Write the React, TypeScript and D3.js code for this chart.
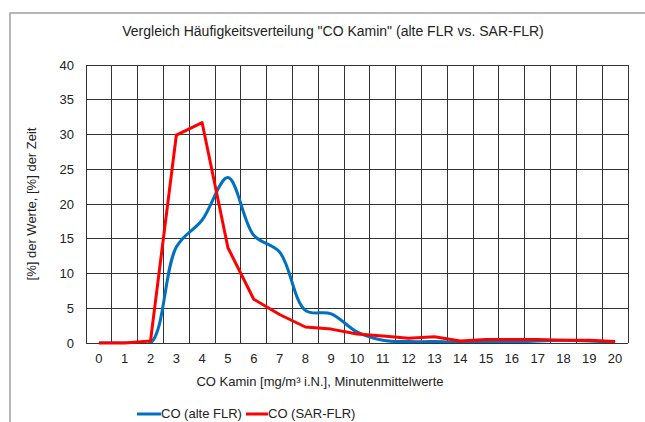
import * as d3 from "d3";

const categories = ["0","1","2","3","4","5","6","7","8","9","10","11","12","13","14","15","16","17","18","19","20"];
const alteFlr = [0, 0, 0, 13.8, 17.7, 23.8, 15.5, 13.1, 4.7, 4.2, 1.6, 0.4, 0.2, 0.2, 0.1, 0.1, 0.1, 0.3, 0.4, 0.3, 0.1];
const sarFlr = [0, 0, 0.3, 29.9, 31.7, 13.7, 6.3, 4.1, 2.3, 2.0, 1.3, 1.0, 0.7, 0.9, 0.3, 0.5, 0.5, 0.5, 0.4, 0.4, 0.2];
const yTicks = [0, 5, 10, 15, 20, 25, 30, 35, 40];

const W = 645;
const H = 422;
const left = 86, right = 628, top = 65, bottom = 343;
const font = "Liberation Sans, Arial, sans-serif";

export default function App() {
  const x = d3.scaleBand().domain(categories).range([left, right]);
  const y = d3.scaleLinear().domain([0, 40]).range([bottom, top]);
  const cx = (i: number) => (x(categories[i]) as number) + x.bandwidth() / 2;

  // smoothed line for the old FLR, straight segments for SAR-FLR
  const blueLine = d3
    .line<number>()
    .x((_, i) => cx(i))
    .y((d) => y(d))
    .curve(d3.curveCatmullRom.alpha(0.5));
  const redLine = d3
    .line<number>()
    .x((_, i) => cx(i))
    .y((d) => y(d));

  const vLines = categories.map((c) => x(c) as number).concat([right]);

  return (
    <svg
      width={W}
      height={H}
      style={{ position: "absolute", left: 0, top: 0, background: "#fff" }}
      fontFamily={font}
    >
      <rect x={10} y={13} width={660} height={440} fill="#fff" stroke="#a0a0a0" strokeWidth={1.5} />
      <text x={333} y={36} textAnchor="middle" fontSize={14} fill="#222">
        Vergleich Häufigkeitsverteilung "CO Kamin" (alte FLR vs. SAR-FLR)
      </text>

      {/* grid */}
      <g stroke="#333" strokeWidth={1} shapeRendering="crispEdges">
        {yTicks.map((t) => (
          <line key={"h" + t} x1={left} x2={right} y1={y(t)} y2={y(t)} />
        ))}
        {vLines.map((v, i) => (
          <line key={"v" + i} x1={v} x2={v} y1={top} y2={bottom} />
        ))}
      </g>

      {/* y labels */}
      <g fontSize={13} fill="#222" textAnchor="end">
        {yTicks.map((t) => (
          <text key={t} x={74} y={y(t) + 4.5}>{t}</text>
        ))}
      </g>
      {/* x labels */}
      <g fontSize={13} fill="#222" textAnchor="middle">
        {categories.map((c, i) => (
          <text key={c} x={cx(i)} y={363}>{c}</text>
        ))}
      </g>

      <text x={320} y={386} textAnchor="middle" fontSize={13} fill="#222">
        CO Kamin [mg/m³ i.N.], Minutenmittelwerte
      </text>
      <text
        transform={`translate(36,${(top + bottom) / 2}) rotate(-90)`}
        textAnchor="middle"
        fontSize={13}
        fill="#222"
      >
        [%] der Werte, [%] der Zeit
      </text>

      <clipPath id="plot">
        <rect x={left} y={top - 5} width={right - left} height={bottom - top + 5} />
      </clipPath>
      <path d={blueLine(alteFlr) || ""} fill="none" stroke="#0070c0" strokeWidth={3} clipPath="url(#plot)" />
      <path d={redLine(sarFlr) || ""} fill="none" stroke="#ff0000" strokeWidth={3} strokeLinejoin="round" />

      {/* legend */}
      <g fontSize={13} fill="#222">
        <line x1={137} x2={161} y1={414} y2={414} stroke="#0070c0" strokeWidth={3} />
        <text x={161} y={418}>CO (alte FLR)</text>
        <line x1={246} x2={268} y1={414} y2={414} stroke="#ff0000" strokeWidth={3} />
        <text x={268} y={418}>CO (SAR-FLR)</text>
      </g>
    </svg>
  );
}
